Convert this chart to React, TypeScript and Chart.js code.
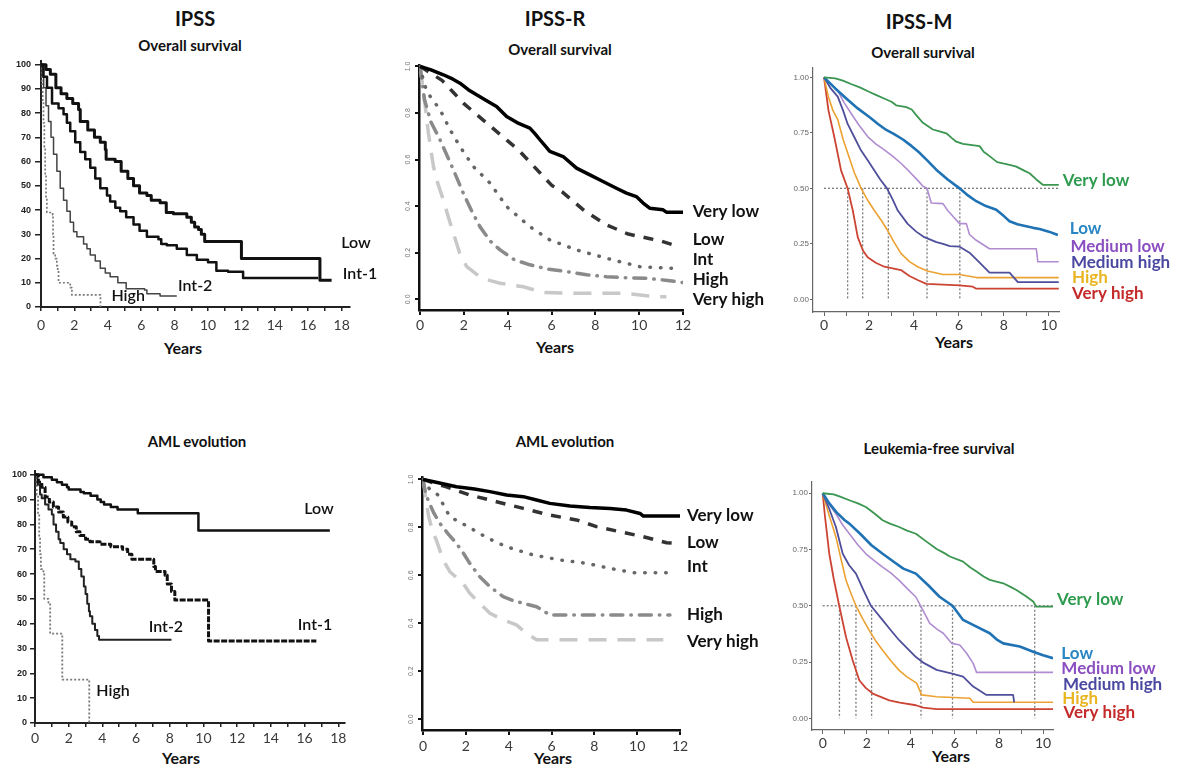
import React, { useEffect, useRef } from 'react';
import { Chart, registerables } from 'chart.js';

Chart.register(...registerables);

type Pt = [number, number];

// ---------------- categories ----------------
const ipssGroups = ['Low', 'Int-1', 'Int-2', 'High'];
const ipssrGroups = ['Very low', 'Low', 'Int', 'High', 'Very high'];
const ipssmGroups = ['Very low', 'Low', 'Medium low', 'Medium high', 'High', 'Very high'];

// ---------------- tick values ----------------
const ipssXTicks = [0, 1, 2, 3, 4, 5, 6, 7, 8, 9, 10, 11, 12, 13, 14, 15, 16, 17, 18];
const ipssYTicks = [0, 10, 20, 30, 40, 50, 60, 70, 80, 90, 100];
const ipssrXTicks = [0, 2, 4, 6, 8, 10, 12];
const ipssrYTicks = [0, 0.2, 0.4, 0.6, 0.8, 1.0];
const ipssmXTicks = [0, 1, 2, 3, 4, 5, 6, 7, 8, 9, 10];
const ipssmYTicks = [0, 0.25, 0.5, 0.75, 1.0];

// ---------------- IPSS overall survival (% , years) ----------------
const ipssOsLow: Pt[] = [[0, 100], [0.3, 98], [0.56, 96], [0.89, 90.5], [1.2, 88], [1.55, 86], [1.9, 84], [2.25, 81.5], [2.35, 76.5], [2.8, 73], [3.2, 70], [3.55, 68], [3.85, 65], [3.9, 61], [4.44, 60], [4.8, 56], [5.2, 53], [5.54, 50], [5.9, 47], [6.34, 46], [6.6, 44], [7.13, 43], [7.5, 39], [7.93, 38.5], [8.73, 37], [9.0, 35], [9.2, 33], [9.43, 32], [9.6, 30], [9.8, 27], [12.0, 20], [16.7, 11], [17.4, 11]];
const ipssOsInt1: Pt[] = [[0, 100], [0.15, 95], [0.36, 90.5], [0.66, 84], [1.05, 82], [1.35, 79.5], [1.55, 76], [1.75, 72.5], [2.05, 68], [2.35, 64], [2.65, 61], [2.95, 57.5], [3.25, 53], [3.55, 49], [3.95, 46], [4.14, 43.5], [4.45, 41], [4.74, 39.5], [5.1, 37], [5.54, 34], [5.9, 31.5], [6.34, 29], [7.03, 28], [7.2, 26], [7.53, 25.5], [8.13, 24], [8.73, 21.5], [9.33, 19.5], [10.0, 18.5], [10.5, 15], [11.2, 14.5], [12.1, 12], [16.6, 12]];
const ipssOsInt2: Pt[] = [[0, 100], [0.08, 95], [0.16, 90.5], [0.3, 83], [0.45, 76.5], [0.6, 70], [0.75, 63], [0.95, 56], [1.15, 49], [1.35, 44], [1.55, 39.5], [1.75, 35], [1.95, 31], [2.15, 29], [2.55, 26], [2.75, 24], [2.95, 21.5], [3.25, 19], [3.55, 16], [3.85, 14], [4.14, 12.5], [4.6, 10], [5.1, 7.5], [6.2, 7], [6.34, 5.5], [7.13, 4.5], [8.13, 4.5]];
const ipssOsHigh: Pt[] = [[0, 100], [0.05, 92], [0.1, 85], [0.15, 76], [0.2, 66], [0.25, 55], [0.3, 45], [0.35, 39], [0.7, 38], [0.72, 30], [0.75, 22], [0.85, 20], [0.95, 17], [1.0, 15], [1.05, 10], [1.7, 10], [1.75, 8], [1.85, 5], [3.55, 5], [3.56, 0]];
const ipssOsLabelAt: Pt[] = [[18.86, 26.3], [19.1, 13.5], [9.23, 8.6], [5.22, 4.8]];

// ---------------- IPSS AML evolution ----------------
const ipssAmlLow: Pt[] = [[0, 100], [0.5, 99], [1.0, 98], [1.3, 97], [1.6, 96], [1.9, 95], [2.0, 94], [2.7, 93], [2.9, 92.5], [3.3, 91.5], [3.7, 90], [3.9, 89], [4.1, 88], [4.5, 87], [4.9, 86], [6.1, 84.5], [9.7, 77.5], [17.5, 77.5]];
const ipssAmlInt1: Pt[] = [[0, 100], [0.2, 97], [0.4, 95], [0.6, 91], [0.85, 89], [1.09, 87], [1.4, 85], [1.68, 83], [1.95, 81], [2.18, 79], [2.45, 77], [2.67, 75.5], [3.0, 74], [3.26, 73], [3.86, 72], [4.5, 71], [5.2, 70], [5.5, 68], [5.75, 66], [7.05, 63], [7.15, 61], [7.72, 59.5], [7.85, 56], [8.1, 53], [8.3, 49.5], [10.3, 33], [16.7, 33]];
const ipssAmlInt2: Pt[] = [[0, 100], [0.15, 96], [0.3, 92], [0.4, 90.5], [0.6, 88], [0.8, 86], [1.0, 84], [1.1, 80], [1.25, 77], [1.4, 74], [1.5, 72.5], [1.7, 70], [1.9, 68], [2.1, 66], [2.4, 65], [2.6, 62], [2.75, 59], [2.9, 55], [3.0, 52], [3.1, 48], [3.2, 45], [3.26, 43], [3.4, 40], [3.56, 37.5], [3.7, 35], [3.8, 33.5], [8.1, 33.5]];
const ipssAmlHigh: Pt[] = [[0, 100], [0.1, 92], [0.18, 84], [0.25, 75], [0.3, 68], [0.35, 62], [0.5, 61], [0.55, 50], [0.8, 48.5], [0.9, 36], [1.6, 36], [1.62, 17.5], [3.2, 17.5], [3.22, 0]];
const ipssAmlLabelAt: Pt[] = [[16.85, 86.3], [16.62, 39.6], [7.77, 38.7], [4.63, 12.9]];

// ---------------- IPSS-R overall survival ----------------
const ipssrOsVeryLow: Pt[] = [[0, 1], [0.5, 0.985], [1.06, 0.964], [1.5, 0.945], [1.82, 0.928], [2.2, 0.9], [2.58, 0.878], [3.0, 0.855], [3.49, 0.828], [3.95, 0.785], [4.5, 0.755], [5.01, 0.735], [5.25, 0.71], [5.47, 0.685], [5.7, 0.66], [5.92, 0.635], [6.53, 0.613], [7.14, 0.563], [7.75, 0.534], [8.35, 0.506], [8.96, 0.477], [9.42, 0.456], [9.87, 0.441], [10.18, 0.413], [10.48, 0.391], [11.09, 0.384], [11.24, 0.374], [12, 0.374]];
const ipssrOsLow: Pt[] = [[0, 1], [0.5, 0.97], [1, 0.94], [1.5, 0.89], [2, 0.84], [2.5, 0.8], [3, 0.76], [3.5, 0.72], [4, 0.68], [4.5, 0.64], [5, 0.59], [5.5, 0.54], [6, 0.49], [6.5, 0.46], [7, 0.42], [7.5, 0.38], [8, 0.35], [8.5, 0.32], [9, 0.3], [9.5, 0.28], [10, 0.27], [10.5, 0.26], [11, 0.25], [11.5, 0.235], [11.8, 0.225]];
const ipssrOsInt: Pt[] = [[0, 1], [0.2, 0.92], [0.46, 0.871], [0.91, 0.814], [1.37, 0.728], [1.82, 0.656], [2.43, 0.57], [3.19, 0.499], [3.95, 0.398], [5.01, 0.312], [5.92, 0.255], [7.14, 0.212], [8.51, 0.176], [10.03, 0.14], [11.54, 0.133]];
const ipssrOsHigh: Pt[] = [[0, 1], [0.1, 0.93], [0.2, 0.857], [0.5, 0.76], [0.91, 0.685], [1.52, 0.556], [1.97, 0.456], [2.35, 0.38], [2.73, 0.312], [3.2, 0.25], [3.65, 0.212], [4.3, 0.17], [5.01, 0.148], [5.8, 0.13], [6.68, 0.119], [7.6, 0.105], [8.5, 0.097], [9.5, 0.092], [10.33, 0.09], [11.2, 0.082], [12, 0.072]];
const ipssrOsVeryHigh: Pt[] = [[0, 1], [0.1, 0.93], [0.2, 0.857], [0.38, 0.713], [0.61, 0.57], [0.8, 0.5], [1.06, 0.427], [1.3, 0.35], [1.52, 0.284], [1.8, 0.2], [2.13, 0.14], [2.73, 0.097], [3.2, 0.08], [3.65, 0.069], [4.71, 0.054], [5.62, 0.029], [7.14, 0.026], [9.27, 0.026], [10.79, 0.011], [11.24, 0.011]];
const ipssrOsLabelAt: Pt[] = [[12.44, 0.375], [12.44, 0.255], [12.44, 0.169], [12.44, 0.083], [12.44, -0.003]];

// ---------------- IPSS-R AML evolution ----------------
const ipssrAmlVeryLow: Pt[] = [[0, 1], [0.5, 0.99], [1.56, 0.969], [2.4, 0.96], [3.12, 0.949], [3.9, 0.935], [4.68, 0.928], [5.3, 0.914], [5.92, 0.9], [6.86, 0.889], [7.79, 0.883], [8.73, 0.879], [9.5, 0.872], [10.13, 0.858], [10.29, 0.847], [12, 0.847]];
const ipssrAmlLow: Pt[] = [[0, 1], [0.5, 0.985], [1.09, 0.969], [2.18, 0.935], [3.43, 0.907], [4.68, 0.879], [5.92, 0.851], [7.17, 0.831], [8.1, 0.803], [9.19, 0.782], [10.29, 0.761], [11.38, 0.736], [11.84, 0.733]];
const ipssrAmlInt: Pt[] = [[0, 1], [0.3, 0.96], [0.7, 0.935], [1.25, 0.844], [2.1, 0.803], [3.04, 0.754], [3.9, 0.719], [5.14, 0.685], [6.39, 0.664], [7.64, 0.65], [8.73, 0.629], [9.82, 0.611], [11.38, 0.611]];
const ipssrAmlHigh: Pt[] = [[0, 1], [0.1, 0.95], [0.23, 0.914], [0.5, 0.86], [0.78, 0.817], [1.2, 0.77], [1.56, 0.733], [1.9, 0.69], [2.18, 0.65], [2.65, 0.594], [3.12, 0.553], [3.74, 0.511], [4.2, 0.495], [4.68, 0.483], [5.3, 0.469], [5.92, 0.435], [11.53, 0.435]];
const ipssrAmlVeryHigh: Pt[] = [[0, 1], [0.1, 0.94], [0.25, 0.85], [0.45, 0.78], [0.62, 0.747], [0.94, 0.664], [1.25, 0.615], [1.87, 0.567], [2.18, 0.525], [2.65, 0.483], [3.12, 0.442], [3.74, 0.414], [4.36, 0.393], [4.83, 0.358], [5.3, 0.331], [11.22, 0.331]];
const ipssrAmlLabelAt: Pt[] = [[12.33, 0.851], [12.33, 0.735], [12.33, 0.635], [12.33, 0.435], [12.33, 0.322]];

// ---------------- IPSS-M overall survival ----------------
const ipssmOsVeryLow: Pt[] = [[0, 1], [0.5, 0.995], [0.84, 0.985], [1.2, 0.97], [1.59, 0.955], [2.0, 0.935], [2.33, 0.92], [2.77, 0.9], [3.0, 0.89], [3.21, 0.874], [3.66, 0.866], [3.9, 0.855], [4.1, 0.83], [4.4, 0.795], [4.84, 0.765], [5.1, 0.758], [5.44, 0.748], [5.7, 0.725], [5.88, 0.71], [6.18, 0.7], [6.92, 0.69], [7.1, 0.665], [7.36, 0.645], [7.7, 0.618], [7.96, 0.612], [8.3, 0.605], [8.55, 0.598], [8.9, 0.58], [9.14, 0.568], [9.44, 0.54], [9.73, 0.516], [10.44, 0.516]];
const ipssmOsLow: Pt[] = [[0, 1], [0.5, 0.95], [0.99, 0.905], [1.5, 0.86], [2.03, 0.82], [2.4, 0.79], [2.77, 0.763], [3.1, 0.745], [3.51, 0.72], [3.9, 0.69], [4.25, 0.66], [4.6, 0.625], [4.99, 0.584], [5.5, 0.54], [6.03, 0.5], [6.4, 0.468], [6.77, 0.442], [7.2, 0.42], [7.66, 0.404], [8.0, 0.375], [8.25, 0.352], [8.6, 0.338], [8.99, 0.329], [9.3, 0.322], [9.59, 0.317], [10.0, 0.305], [10.4, 0.29]];
const ipssmOsMedLow: Pt[] = [[0, 1], [0.3, 0.97], [0.61, 0.94], [0.9, 0.885], [1.2, 0.838], [1.55, 0.785], [1.94, 0.733], [2.3, 0.7], [2.68, 0.673], [3.05, 0.645], [3.42, 0.613], [3.8, 0.575], [4.16, 0.537], [4.4, 0.509], [4.58, 0.5], [4.77, 0.434], [5.29, 0.431], [5.5, 0.4], [5.73, 0.374], [6.03, 0.341], [6.33, 0.341], [6.47, 0.292], [6.77, 0.266], [7.1, 0.245], [7.36, 0.228], [9.44, 0.228], [9.51, 0.169], [10.44, 0.169]];
const ipssmOsMedHigh: Pt[] = [[0, 1], [0.3, 0.95], [0.61, 0.913], [0.85, 0.85], [1.05, 0.79], [1.35, 0.73], [1.65, 0.67], [1.95, 0.625], [2.24, 0.58], [2.5, 0.54], [2.8, 0.5], [3.05, 0.45], [3.28, 0.4], [3.72, 0.34], [4.1, 0.305], [4.46, 0.28], [5.0, 0.258], [5.29, 0.25], [5.6, 0.24], [6.03, 0.237], [6.47, 0.21], [6.92, 0.165], [7.36, 0.12], [8.25, 0.12], [8.62, 0.078], [10.44, 0.078]];
const ipssmOsHigh: Pt[] = [[0, 1], [0.2, 0.91], [0.4, 0.85], [0.61, 0.81], [0.85, 0.72], [1.05, 0.66], [1.35, 0.57], [1.65, 0.5], [1.95, 0.445], [2.24, 0.4], [2.55, 0.355], [2.83, 0.31], [3.1, 0.26], [3.42, 0.207], [3.8, 0.17], [4.16, 0.147], [4.6, 0.128], [5.29, 0.112], [6.03, 0.112], [6.77, 0.098], [10.44, 0.098]];
const ipssmOsVeryHigh: Pt[] = [[0, 1], [0.2, 0.85], [0.46, 0.73], [0.76, 0.58], [1.05, 0.5], [1.28, 0.4], [1.5, 0.28], [1.73, 0.22], [1.94, 0.19], [2.3, 0.165], [2.68, 0.147], [3.42, 0.132], [3.8, 0.105], [4.16, 0.087], [4.55, 0.07], [6.03, 0.063], [6.62, 0.057], [6.77, 0.048], [10.44, 0.048]];
const ipssmOsMedians = [1.05, 1.72, 2.86, 4.58, 6.04];
const ipssmOsLabelAt: Pt[] = [[10.62, 0.537], [10.93, 0.317], [10.96, 0.24], [10.98, 0.168], [11.03, 0.1], [11.03, 0.028]];

// ---------------- IPSS-M leukemia-free survival ----------------
const ipssmLfsVeryLow: Pt[] = [[0, 1], [0.5, 0.995], [0.79, 0.985], [1.21, 0.969], [1.6, 0.955], [1.96, 0.939], [2.35, 0.91], [2.72, 0.88], [3.05, 0.865], [3.47, 0.85], [3.8, 0.835], [4.23, 0.82], [4.71, 0.785], [5.17, 0.752], [5.5, 0.735], [5.77, 0.719], [6.37, 0.696], [6.7, 0.67], [6.98, 0.652], [7.3, 0.63], [7.58, 0.615], [8.19, 0.6], [8.5, 0.585], [8.79, 0.57], [9.24, 0.541], [9.55, 0.519], [9.7, 0.496], [10.45, 0.496]];
const ipssmLfsLow: Pt[] = [[0, 1], [0.3, 0.955], [0.63, 0.915], [1.0, 0.88], [1.21, 0.865], [1.7, 0.82], [2.2, 0.77], [2.72, 0.731], [3.3, 0.69], [3.66, 0.665], [4.23, 0.643], [4.8, 0.59], [5.3, 0.54], [5.89, 0.5], [6.37, 0.437], [6.98, 0.407], [7.58, 0.378], [7.9, 0.35], [8.19, 0.333], [8.94, 0.319], [9.55, 0.296], [10.0, 0.28], [10.45, 0.267]];
const ipssmLfsMedLow: Pt[] = [[0, 1], [0.3, 0.95], [0.6, 0.909], [0.9, 0.86], [1.21, 0.82], [1.6, 0.77], [1.96, 0.731], [2.35, 0.7], [2.72, 0.672], [3.1, 0.645], [3.47, 0.613], [3.85, 0.575], [4.23, 0.539], [4.46, 0.496], [4.86, 0.422], [5.2, 0.395], [5.47, 0.378], [5.85, 0.333], [6.22, 0.326], [6.53, 0.289], [6.83, 0.244], [6.98, 0.204], [10.45, 0.204]];
const ipssmLfsMedHigh: Pt[] = [[0, 1], [0.3, 0.93], [0.6, 0.85], [0.91, 0.731], [1.2, 0.68], [1.51, 0.643], [1.85, 0.57], [2.19, 0.5], [2.72, 0.436], [3.1, 0.39], [3.47, 0.347], [3.85, 0.31], [4.23, 0.272], [4.6, 0.245], [5.17, 0.215], [5.92, 0.197], [6.37, 0.185], [6.83, 0.141], [7.43, 0.104], [8.64, 0.104], [8.69, 0.071]];
const ipssmLfsHigh: Pt[] = [[0, 1], [0.3, 0.9], [0.6, 0.806], [0.85, 0.7], [1.06, 0.613], [1.3, 0.55], [1.51, 0.5], [1.8, 0.445], [2.11, 0.391], [2.4, 0.345], [2.72, 0.302], [3.1, 0.255], [3.47, 0.213], [3.81, 0.185], [4.26, 0.156], [4.49, 0.104], [5.17, 0.096], [6.68, 0.089], [6.83, 0.071], [10.45, 0.071]];
const ipssmLfsVeryHigh: Pt[] = [[0, 1], [0.1, 0.9], [0.3, 0.73], [0.5, 0.62], [0.75, 0.5], [1.06, 0.36], [1.36, 0.258], [1.66, 0.169], [1.95, 0.135], [2.27, 0.11], [3.02, 0.08], [3.5, 0.07], [4.23, 0.058], [4.56, 0.047], [5.17, 0.041], [10.45, 0.041]];
const ipssmLfsMedians = [0.76, 1.51, 2.22, 4.46, 5.89, 9.62];
const ipssmLfsLabelAt: Pt[] = [[10.63, 0.526], [10.83, 0.286], [10.83, 0.219], [10.9, 0.152], [10.87, 0.09], [10.93, 0.024]];

const medianLevel = 0.5;

// ---------------- styles ----------------
const FONT = 'Lato, "Open Sans", "DejaVu Sans", sans-serif';

type LineStyle = { color: string; width: number; dash?: number[]; cap?: 'butt' | 'round' };

const ipssOsStyles: LineStyle[] = [
  { color: '#111', width: 3 },
  { color: '#111', width: 2.5 },
  { color: '#444', width: 1.5 },
  { color: '#7a7a7a', width: 1.7, dash: [2, 2] },
];
const ipssAmlStyles: LineStyle[] = [
  { color: '#111', width: 2.5 },
  { color: '#111', width: 3, dash: [6, 1.5] },
  { color: '#222', width: 2 },
  { color: '#7a7a7a', width: 1.8, dash: [2, 2] },
];
const ipssrStyles: LineStyle[] = [
  { color: '#000', width: 3.5 },
  { color: '#333', width: 3.5, dash: [10, 9] },
  { color: '#666', width: 3.5, dash: [0.5, 10], cap: 'round' },
  { color: '#8a8a8a', width: 3.5, dash: [12, 8, 0.5, 8], cap: 'round' },
  { color: '#c8c8c8', width: 3.5, dash: [18, 11] },
];
const ipssmStyles: LineStyle[] = [
  { color: '#3a9650', width: 1.8 },
  { color: '#1f72b4', width: 2.6 },
  { color: '#b08cd0', width: 1.6 },
  { color: '#4f4f9c', width: 1.8 },
  { color: '#eca232', width: 1.6 },
  { color: '#cc4433', width: 1.8 },
];
const ipssmLabelColors = ['#2e9b4f', '#2a86c4', '#8a4fc0', '#4a48a0', '#e8b420', '#c42a2a'];

// ---------------- panel specs ----------------
type Rect = { left: number; top: number; width: number; height: number };
type Area = { left: number; top: number; right: number; bottom: number };
type AxisStyle = {
  color: string; width: number; tickWidth: number;
  xTickLen: number; xPad: number; yTickLen: number; yPad: number;
  yFont: { family: string; size: number; weight?: string }; yColor: string; yRotate: number; yCross: 'near' | 'center';
};

type PanelSpec = {
  canvas: Rect; plot: Area;
  xMin: number; xMax: number; yMin: number; yMax: number;
  xTicks: number[]; xLabelStep: number; yTicks: number[]; yDigits: number;
  series: Pt[][]; groups: string[]; styles: LineStyle[]; stepped: boolean;
  medians?: number[];
  labelAt: Pt[]; labelColors: string[]; labelFont: string; labelAlign: CanvasTextAlign;
  axis: AxisStyle;
};

const ipssAxis: AxisStyle = {
  color: '#222', width: 2, tickWidth: 1.5, xTickLen: 4, xPad: 6, yTickLen: 6, yPad: 4,
  yFont: { family: '"Liberation Sans", sans-serif', size: 9, weight: 'bold' }, yColor: '#222', yRotate: 0, yCross: 'near',
};
const ipssrAxis: AxisStyle = {
  color: '#111', width: 2.5, tickWidth: 2, xTickLen: 5, xPad: 2, yTickLen: 4, yPad: 2,
  yFont: { family: '"Liberation Sans", sans-serif', size: 7 }, yColor: '#777', yRotate: 90, yCross: 'center',
};
const ipssmAxis: AxisStyle = {
  color: '#666', width: 1.2, tickWidth: 1, xTickLen: 4, xPad: 1, yTickLen: 3, yPad: 1,
  yFont: { family: '"Liberation Sans Narrow", "Liberation Sans", sans-serif', size: 8 }, yColor: '#666', yRotate: 0, yCross: 'near',
};

const blackLabels = ['#111', '#111', '#111', '#111', '#111', '#111'];

const panels: PanelSpec[] = [
  {
    canvas: { left: 0, top: 50, width: 385, height: 290 },
    plot: { left: 41, top: 61, right: 350, bottom: 307 },
    xMin: 0, xMax: 18.5, yMin: 0, yMax: 101.5,
    xTicks: ipssXTicks, xLabelStep: 2, yTicks: ipssYTicks, yDigits: 0,
    series: [ipssOsLow, ipssOsInt1, ipssOsInt2, ipssOsHigh], groups: ipssGroups, styles: ipssOsStyles, stepped: true,
    labelAt: ipssOsLabelAt, labelColors: blackLabels, labelFont: `600 16px ${FONT}`, labelAlign: 'center',
    axis: ipssAxis,
  },
  {
    canvas: { left: 385, top: 55, width: 390, height: 285 },
    plot: { left: 419, top: 65, right: 683, bottom: 310 },
    xMin: -0.05, xMax: 12, yMin: -0.046, yMax: 1.006,
    xTicks: ipssrXTicks, xLabelStep: 2, yTicks: ipssrYTicks, yDigits: 1,
    series: [ipssrOsVeryLow, ipssrOsLow, ipssrOsInt, ipssrOsHigh, ipssrOsVeryHigh], groups: ipssrGroups, styles: ipssrStyles, stepped: false,
    labelAt: ipssrOsLabelAt, labelColors: blackLabels, labelFont: `bold 17px ${FONT}`, labelAlign: 'left',
    axis: ipssrAxis,
  },
  {
    canvas: { left: 775, top: 58, width: 402, height: 282 },
    plot: { left: 813, top: 68, right: 1059, bottom: 312 },
    xMin: -0.49, xMax: 10.45, yMin: -0.057, yMax: 1.042,
    xTicks: ipssmXTicks, xLabelStep: 2, yTicks: ipssmYTicks, yDigits: 2,
    series: [ipssmOsVeryLow, ipssmOsLow, ipssmOsMedLow, ipssmOsMedHigh, ipssmOsHigh, ipssmOsVeryHigh], groups: ipssmGroups, styles: ipssmStyles, stepped: false,
    medians: ipssmOsMedians,
    labelAt: ipssmOsLabelAt, labelColors: ipssmLabelColors, labelFont: `bold 17px ${FONT}`, labelAlign: 'left',
    axis: ipssmAxis,
  },
  {
    canvas: { left: 0, top: 455, width: 385, height: 311 },
    plot: { left: 35, top: 471, right: 345, bottom: 723 },
    xMin: 0, xMax: 18.4, yMin: 0, yMax: 101.5,
    xTicks: ipssXTicks, xLabelStep: 2, yTicks: ipssYTicks, yDigits: 0,
    series: [ipssAmlLow, ipssAmlInt1, ipssAmlInt2, ipssAmlHigh], groups: ipssGroups, styles: ipssAmlStyles, stepped: true,
    labelAt: ipssAmlLabelAt, labelColors: blackLabels, labelFont: `600 16px ${FONT}`, labelAlign: 'center',
    axis: { ...ipssAxis, xTickLen: 4, xPad: 3, yTickLen: 5, yPad: 3 },
  },
  {
    canvas: { left: 385, top: 460, width: 390, height: 306 },
    plot: { left: 422, top: 477, right: 680, bottom: 730 },
    xMin: -0.05, xMax: 12, yMin: -0.045, yMax: 1.01,
    xTicks: ipssrXTicks, xLabelStep: 2, yTicks: ipssrYTicks, yDigits: 1,
    series: [ipssrAmlVeryLow, ipssrAmlLow, ipssrAmlInt, ipssrAmlHigh, ipssrAmlVeryHigh], groups: ipssrGroups, styles: ipssrStyles, stepped: false,
    labelAt: ipssrAmlLabelAt, labelColors: blackLabels, labelFont: `bold 17px ${FONT}`, labelAlign: 'left',
    axis: { ...ipssrAxis, xPad: 3 },
  },
  {
    canvas: { left: 775, top: 470, width: 402, height: 296 },
    plot: { left: 812, top: 482, right: 1053, bottom: 730 },
    xMin: -0.485, xMax: 10.45, yMin: -0.052, yMax: 1.05,
    xTicks: ipssmXTicks, xLabelStep: 2, yTicks: ipssmYTicks, yDigits: 2,
    series: [ipssmLfsVeryLow, ipssmLfsLow, ipssmLfsMedLow, ipssmLfsMedHigh, ipssmLfsHigh, ipssmLfsVeryHigh], groups: ipssmGroups, styles: ipssmStyles, stepped: false,
    medians: ipssmLfsMedians,
    labelAt: ipssmLfsLabelAt, labelColors: ipssmLabelColors, labelFont: `bold 17px ${FONT}`, labelAlign: 'left',
    axis: ipssmAxis,
  },
];

type TextSpec = { text: string; x: number; y: number; size: number };
const texts: TextSpec[] = [
  { text: 'IPSS', x: 195, y: 18, size: 20 },
  { text: 'Overall survival', x: 190, y: 45, size: 15 },
  { text: 'IPSS-R', x: 555, y: 18, size: 20 },
  { text: 'Overall survival', x: 560, y: 49, size: 15 },
  { text: 'IPSS-M', x: 919, y: 21, size: 20 },
  { text: 'Overall survival', x: 923, y: 52, size: 15 },
  { text: 'AML evolution', x: 197, y: 441, size: 15 },
  { text: 'AML evolution', x: 565, y: 441, size: 15 },
  { text: 'Leukemia-free survival', x: 939, y: 448, size: 15 },
  { text: 'Years', x: 183, y: 348, size: 16 },
  { text: 'Years', x: 555, y: 347, size: 16 },
  { text: 'Years', x: 954, y: 342, size: 16 },
  { text: 'Years', x: 181, y: 758, size: 16 },
  { text: 'Years', x: 553, y: 758, size: 16 },
  { text: 'Years', x: 951, y: 756, size: 16 },
];

// ---------------- chart config ----------------
function buildConfig(s: PanelSpec): any {
  const cRight = s.canvas.left + s.canvas.width;
  const cBottom = s.canvas.top + s.canvas.height;
  const datasets: any[] = s.series.map((data, i) => ({
    label: s.groups[i],
    data,
    borderColor: s.styles[i].color,
    backgroundColor: s.styles[i].color,
    borderWidth: s.styles[i].width,
    borderDash: s.styles[i].dash ?? [],
    borderCapStyle: s.styles[i].cap ?? 'butt',
    borderJoinStyle: 'round',
    stepped: s.stepped,
    pointRadius: 0,
    pointHoverRadius: 0,
    fill: false,
    tension: 0,
  }));
  if (s.medians) {
    const medStyle = { borderColor: '#7a7a7a', borderWidth: 1.3, borderDash: [2, 2], pointRadius: 0, fill: false, tension: 0 };
    datasets.push({ label: 'median', data: [[0, medianLevel], [s.xMax, medianLevel]], ...medStyle });
    s.medians.forEach((m) => {
      datasets.push({ label: 'median', data: [[m, medianLevel], [m, 0]], ...medStyle });
    });
  }
  const a = s.axis;
  const labelPlugin = {
    id: 'seriesLabels',
    afterDatasetsDraw(chart: any) {
      const { ctx, scales } = chart;
      ctx.save();
      ctx.font = s.labelFont;
      ctx.textAlign = s.labelAlign;
      ctx.textBaseline = 'middle';
      s.labelAt.forEach((p, i) => {
        ctx.fillStyle = s.labelColors[i];
        ctx.fillText(s.groups[i], scales.x.getPixelForValue(p[0]), scales.y.getPixelForValue(p[1]));
      });
      ctx.restore();
    },
  };
  return {
    type: 'line',
    data: { datasets },
    options: {
      responsive: false,
      maintainAspectRatio: false,
      animation: false,
      events: [],
      layout: {
        padding: { left: 0, top: s.plot.top - s.canvas.top, right: cRight - s.plot.right, bottom: 0 },
      },
      plugins: { legend: { display: false }, tooltip: { enabled: false }, title: { display: false } },
      scales: {
        x: {
          type: 'linear',
          min: s.xMin,
          max: s.xMax,
          afterBuildTicks: (sc: any) => { sc.ticks = s.xTicks.map((v) => ({ value: v })); },
          afterFit: (sc: any) => { sc.height = cBottom - s.plot.bottom; },
          ticks: {
            autoSkip: false, maxRotation: 0, minRotation: 0, padding: a.xPad, color: '#3a3a3a',
            font: { family: FONT, size: 14 },
            callback: (v: number) => (Math.abs(v % s.xLabelStep) < 1e-9 ? String(v) : ''),
          },
          grid: { display: true, drawOnChartArea: false, drawTicks: true, tickLength: a.xTickLen, color: a.color, lineWidth: a.tickWidth },
          border: { display: true, color: a.color, width: a.width },
        },
        y: {
          type: 'linear',
          min: s.yMin,
          max: s.yMax,
          afterBuildTicks: (sc: any) => { sc.ticks = s.yTicks.map((v) => ({ value: v })); },
          afterFit: (sc: any) => { sc.width = s.plot.left - s.canvas.left; },
          ticks: {
            autoSkip: false, padding: a.yPad, color: a.yColor, font: a.yFont,
            minRotation: a.yRotate, maxRotation: a.yRotate, crossAlign: a.yCross,
            callback: (v: number) => v.toFixed(s.yDigits),
          },
          grid: { display: true, drawOnChartArea: false, drawTicks: true, tickLength: a.yTickLen, color: a.color, lineWidth: a.tickWidth },
          border: { display: true, color: a.color, width: a.width },
        },
      },
    },
    plugins: [labelPlugin],
  };
}

function ChartPanel({ spec }: { spec: PanelSpec }) {
  const ref = useRef<HTMLCanvasElement>(null);
  useEffect(() => {
    if (!ref.current) return;
    const chart = new Chart(ref.current, buildConfig(spec));
    return () => chart.destroy();
  }, [spec]);
  const c = spec.canvas;
  return (
    <canvas
      ref={ref}
      width={c.width}
      height={c.height}
      style={{ position: 'absolute', left: c.left, top: c.top, width: c.width, height: c.height }}
    />
  );
}

export default function App() {
  return (
    <div style={{ position: 'absolute', left: 0, top: 0, width: 1177, height: 766, background: '#fff', overflow: 'hidden', fontFamily: FONT }}>
      {texts.map((t, i) => (
        <div
          key={i}
          style={{
            position: 'absolute', left: t.x, top: t.y, transform: 'translate(-50%, -50%)',
            fontSize: t.size, fontWeight: 'bold', color: '#111', whiteSpace: 'nowrap', lineHeight: 1,
          }}
        >
          {t.text}
        </div>
      ))}
      {panels.map((p, i) => (
        <ChartPanel key={i} spec={p} />
      ))}
    </div>
  );
}
